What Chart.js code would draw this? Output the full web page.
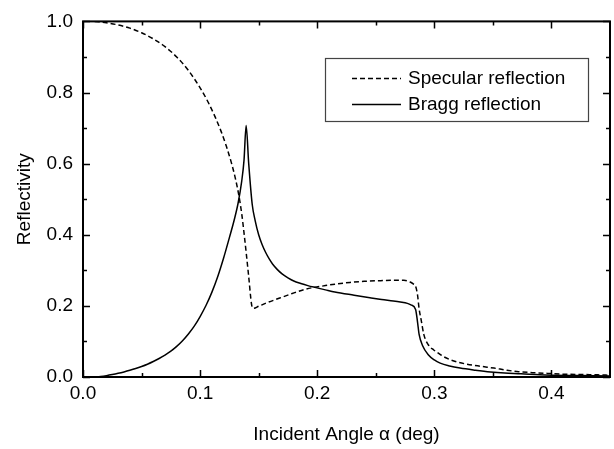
<!DOCTYPE html>
<html>
<head>
<meta charset="utf-8">
<script src="https://cdn.jsdelivr.net/npm/chart.js@4.4.1/dist/chart.umd.min.js"></script>
<style>
  html, body { margin: 0; padding: 0; background: #fff; }
  #wrap { width: 614px; height: 449px; }
</style>
</head>
<body>
<div id="wrap"><canvas id="main-chart" width="614" height="449"></canvas></div>
<script>
const specX = [0.010, 0.020, 0.030, 0.040, 0.050, 0.060, 0.070, 0.080, 0.090, 0.100, 0.107, 0.113, 0.118, 0.1225, 0.1265, 0.130, 0.133, 0.1355, 0.1375, 0.1395, 0.1415, 0.144, 0.1456,
  0.150, 0.158, 0.168, 0.178, 0.190, 0.207, 0.215, 0.228, 0.240, 0.254, 0.265, 0.274, 0.279, 0.282, 0.284, 0.2856, 0.287, 0.289, 0.291, 0.295,
  0.2995, 0.3026, 0.308, 0.314, 0.321, 0.328, 0.340, 0.351, 0.362, 0.372, 0.385, 0.397, 0.410, 0.425, 0.440, 0.450];
const specY = [1.000, 0.996, 0.990, 0.981, 0.968, 0.951, 0.929, 0.900, 0.862, 0.813, 0.772, 0.730, 0.690, 0.648, 0.605, 0.560, 0.512, 0.460, 0.405, 0.345, 0.282, 0.203, 0.193,
  0.199, 0.210, 0.222, 0.234, 0.247, 0.257, 0.261, 0.266, 0.269, 0.271, 0.272, 0.272, 0.268, 0.262, 0.255, 0.232, 0.192, 0.156, 0.120, 0.090,
  0.076, 0.069, 0.057, 0.048, 0.041, 0.036, 0.030, 0.025, 0.019, 0.015, 0.012, 0.010, 0.008, 0.007, 0.006, 0.005];

const braggX = [0.010, 0.015, 0.020, 0.025, 0.030, 0.035, 0.040, 0.045, 0.050, 0.055, 0.060, 0.065, 0.070, 0.075, 0.080, 0.085, 0.090, 0.095, 0.100,
  0.105, 0.110, 0.115, 0.120, 0.125, 0.129, 0.1325, 0.1355, 0.1375, 0.1393,
  0.1415, 0.1445, 0.147, 0.150, 0.153, 0.156, 0.159, 0.162, 0.166, 0.170, 0.175, 0.180, 0.186, 0.192, 0.198, 0.207, 0.215, 0.2315, 0.245, 0.255, 0.265, 0.271, 0.277,
  0.280, 0.284, 0.2856, 0.287, 0.290, 0.295, 0.300, 0.305, 0.313, 0.322, 0.335, 0.348, 0.360, 0.374, 0.390, 0.400, 0.425, 0.450];
const braggY = [0.000, 0.0015, 0.0038, 0.0068, 0.0103, 0.0143, 0.0188, 0.0238, 0.0295, 0.036, 0.0435, 0.052, 0.0615, 0.0725, 0.086, 0.102, 0.121, 0.143, 0.170,
  0.201, 0.238, 0.282, 0.334, 0.392, 0.440, 0.490, 0.550, 0.610, 0.707,
  0.600, 0.485, 0.440, 0.400, 0.372, 0.350, 0.332, 0.317, 0.302, 0.290, 0.279, 0.270, 0.263, 0.257, 0.252, 0.245, 0.239, 0.230, 0.223, 0.218, 0.214, 0.211, 0.207,
  0.203, 0.190, 0.156, 0.120, 0.088, 0.062, 0.048, 0.039, 0.031, 0.025, 0.019, 0.014, 0.011, 0.009, 0.006, 0.005, 0.004, 0.003];

const seriesLabels = ['Specular reflection', 'Bragg reflection'];
const xMajor = [0.0, 0.1, 0.2, 0.3, 0.4];
const xMinor = [0.05, 0.15, 0.25, 0.35];
const yMajor = [0.0, 0.2, 0.4, 0.6, 0.8, 1.0];
const yMinor = [0.1, 0.3, 0.5, 0.7, 0.9];

const FONT = "'Liberation Sans', Arial, sans-serif";
const FONT_SIZE = 19;

const toPoints = (xs, ys) => xs.map((x, i) => ({ x, y: ys[i] }));

// Frame with inward ticks on all four sides
const frameTicks = {
  id: 'frameTicks',
  afterDatasetsDraw(chart) {
    const { ctx, chartArea: a, scales } = chart;
    const major = 7, minor = 4;
    ctx.save();
    ctx.strokeStyle = '#000';
    ctx.lineWidth = 1.5;
    ctx.beginPath();
    const tickX = (vals, len) => {
      vals.forEach(v => {
        const px = Math.round(scales.x.getPixelForValue(v)) + 0.5;
        ctx.moveTo(px, a.bottom); ctx.lineTo(px, a.bottom - len);
        ctx.moveTo(px, a.top);    ctx.lineTo(px, a.top + len);
      });
    };
    const tickY = (vals, len) => {
      vals.forEach(v => {
        const py = Math.round(scales.y.getPixelForValue(v)) + 0.5;
        ctx.moveTo(a.left, py);  ctx.lineTo(a.left + len, py);
        ctx.moveTo(a.right, py); ctx.lineTo(a.right - len, py);
      });
    };
    tickX(xMajor, major); tickX(xMinor, minor);
    tickY(yMajor, major); tickY(yMinor, minor);
    ctx.stroke();
    ctx.lineWidth = 2;
    ctx.strokeRect(a.left, a.top, a.right - a.left, a.bottom - a.top);
    ctx.restore();
  }
};

// Boxed legend inside the plot
const boxLegend = {
  id: 'boxLegend',
  afterDatasetsDraw(chart) {
    const { ctx } = chart;
    const box = { x: 325.5, y: 58.5, w: 263, h: 63 };
    ctx.save();
    ctx.fillStyle = '#fff';
    ctx.fillRect(box.x, box.y, box.w, box.h);
    ctx.strokeStyle = '#444';
    ctx.lineWidth = 1.2;
    ctx.strokeRect(box.x, box.y, box.w, box.h);
    ctx.font = FONT_SIZE + 'px ' + FONT;
    ctx.fillStyle = '#000';
    ctx.textBaseline = 'middle';
    chart.data.datasets.forEach((ds, i) => {
      const y = 78 + i * 26;
      ctx.beginPath();
      ctx.strokeStyle = '#000';
      ctx.lineWidth = ds.borderWidth;
      ctx.setLineDash(ds.borderDash || []);
      ctx.moveTo(352, y + 0.5); ctx.lineTo(401, y + 0.5);
      ctx.stroke();
      ctx.setLineDash([]);
      ctx.fillText(ds.label, 408, y + 1);
    });
    ctx.restore();
  }
};

const ctx = document.getElementById('main-chart').getContext('2d');
new Chart(ctx, {
  type: 'line',
  data: {
    datasets: [
      {
        label: seriesLabels[0],
        data: toPoints(specX, specY),
        borderColor: '#000',
        borderWidth: 1.5,
        borderDash: [5, 3],
        pointRadius: 0,
        cubicInterpolationMode: 'monotone',
        fill: false,
      },
      {
        label: seriesLabels[1],
        data: toPoints(braggX, braggY),
        borderColor: '#000',
        borderWidth: 1.5,
        borderDash: [],
        pointRadius: 0,
        cubicInterpolationMode: 'monotone',
        fill: false,
      },
    ]
  },
  options: {
    responsive: false,
    maintainAspectRatio: false,
    animation: false,
    layout: { padding: { top: 12, right: 4, left: 0, bottom: 0 } },
    plugins: {
      legend: { display: false },
      tooltip: { enabled: false },
    },
    scales: {
      x: {
        type: 'linear',
        min: 0,
        max: 0.45,
        grid: { display: false, drawTicks: false },
        border: { display: false },
        afterBuildTicks: s => { s.ticks = xMajor.map(v => ({ value: v })); },
        afterFit: s => { s.height = 72; },
        ticks: {
          color: '#000',
          padding: 5,
          maxRotation: 0,
          autoSkip: false,
          font: { family: FONT, size: FONT_SIZE },
          callback: v => Number(v).toFixed(1),
        },
        title: {
          display: true,
          text: 'Incident Angle α (deg)',
          color: '#000',
          font: { family: FONT, size: FONT_SIZE },
          padding: { top: 0, bottom: 3 },
        },
      },
      y: {
        type: 'linear',
        min: 0,
        max: 1,
        grid: { display: false, drawTicks: false },
        border: { display: false },
        afterBuildTicks: s => { s.ticks = yMajor.map(v => ({ value: v })); },
        afterFit: s => { s.width = 83; },
        ticks: {
          color: '#000',
          padding: 10,
          autoSkip: false,
          font: { family: FONT, size: FONT_SIZE },
          callback: v => Number(v).toFixed(1),
        },
        title: {
          display: true,
          text: 'Reflectivity',
          color: '#000',
          font: { family: FONT, size: FONT_SIZE },
          padding: { top: 13, bottom: 0 },
        },
      },
    }
  },
  plugins: [frameTicks, boxLegend],
});
</script>
</body>
</html>
